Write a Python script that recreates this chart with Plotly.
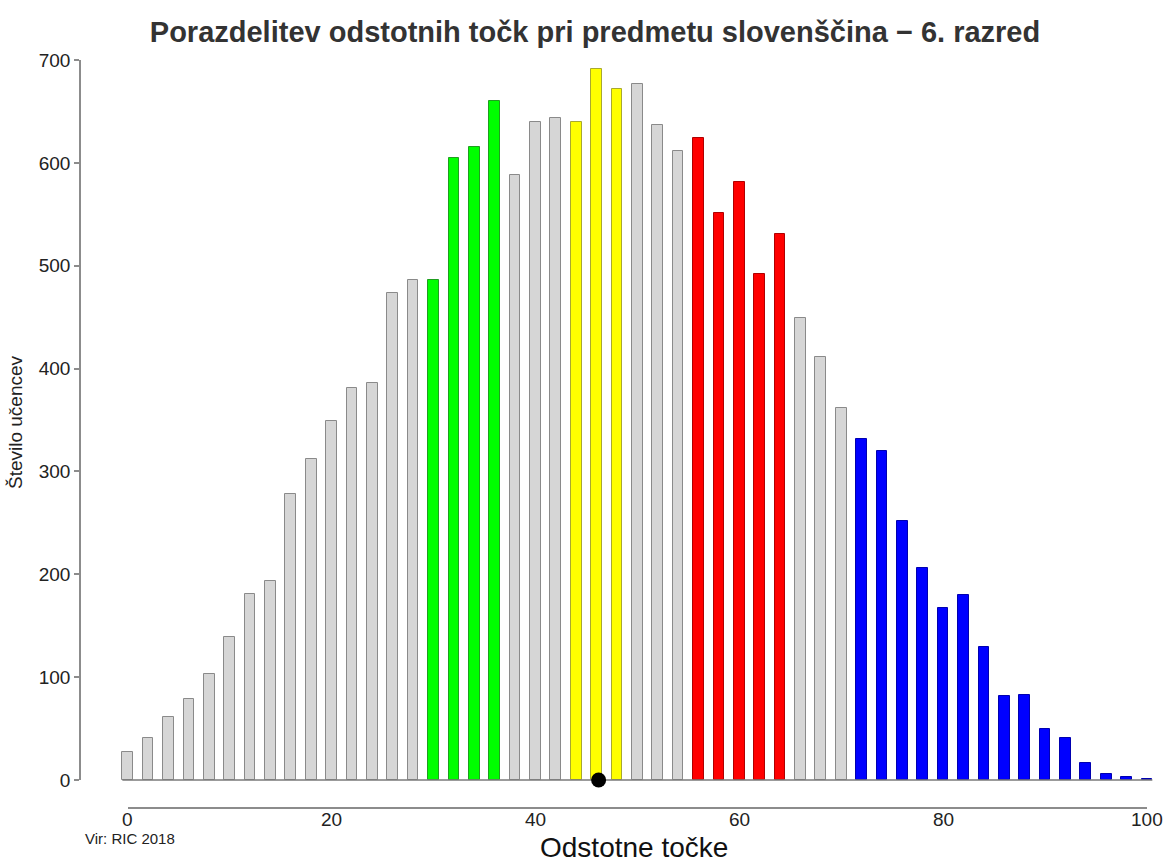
import plotly.graph_objects as go

# ---- data ----
odstotne_tocke = [0, 2, 4, 6, 8, 10, 12, 14, 16, 18, 20, 22, 24, 26, 28, 30, 32, 34, 36, 38,
                  40, 42, 44, 46, 48, 50, 52, 54, 56, 58, 60, 62, 64, 66, 68, 70, 72, 74, 76, 78,
                  80, 82, 84, 86, 88, 90, 92, 94, 96, 98, 100]
stevilo_ucencev = [27, 41, 61, 79, 103, 139, 181, 193, 278, 312, 349, 381, 386, 473, 486, 486, 605, 615, 660, 588,
                   640, 644, 640, 691, 672, 677, 637, 612, 624, 551, 581, 492, 531, 449, 411, 362, 332, 320, 252, 206,
                   167, 180, 129, 82, 83, 50, 41, 17, 6, 3, 1]
skupine = ["siva"] * 15 + ["zelena"] * 4 + ["siva"] * 3 + ["rumena"] * 3 + ["siva"] * 3 + \
          ["rdeca"] * 5 + ["siva"] * 3 + ["modra"] * 15
povprecje_x = [46.2]
povprecje_y = [0]
x_ticks = [0, 20, 40, 60, 80, 100]
y_ticks = [0, 100, 200, 300, 400, 500, 600, 700]

barve = {"siva": "#d6d6d6", "zelena": "#00ff00", "rumena": "#ffff00", "rdeca": "#ff0000", "modra": "#0000ff"}
obrobe = {"siva": "#8a8a8a", "zelena": "#1f9e1f", "rumena": "#a8a830", "rdeca": "#b00000", "modra": "#0000b0"}

FONT = "Liberation Sans, Arial, sans-serif"
bar_w = 1.05

fig = go.Figure()
fig.add_trace(go.Bar(
    x=odstotne_tocke, y=stevilo_ucencev, width=bar_w,
    marker=dict(color=[barve[s] for s in skupine],
                line=dict(color=[obrobe[s] for s in skupine], width=1)),
    showlegend=False, hoverinfo="x+y",
))
# baseline under the bars
fig.add_trace(go.Scatter(
    x=[odstotne_tocke[0] - bar_w / 2, odstotne_tocke[-1] + bar_w / 2], y=[0, 0],
    mode="lines", line=dict(color="#7a7a7a", width=1.5), showlegend=False, hoverinfo="skip",
))
# mean marker
fig.add_trace(go.Scatter(
    x=povprecje_x, y=povprecje_y, xaxis="x2", yaxis="y2", mode="markers",
    marker=dict(color="black", size=15), cliponaxis=False, showlegend=False,
))

W, H = 1165, 862
L, R, T, B = 80, 10, 58, 54
pw, ph = W - L - R, H - T - B
x0_px, x100_px = 127.7, 1147.0
y0_px, y700_px = 780.0, 60.0
sx = (x100_px - x0_px) / 100.0
sy = (y0_px - y700_px) / 700.0
xr0 = -(x0_px - L) / sx
xr1 = xr0 + pw / sx
yr0 = -((H - B) - y0_px) / sy
yr1 = yr0 + ph / sy

def py(px):
    return ((H - B) - px) / ph

def pxx(px):
    return (px - L) / pw

axis_col = "#8c8c8c"
annotations = [
    dict(text="Vir: RIC 2018", xref="paper", yref="paper",
         x=pxx(83), y=py(838), xanchor="left", yanchor="middle",
         showarrow=False, font=dict(size=15, color="#222")),
    dict(text="Odstotne točke", xref="paper", yref="paper",
         x=pxx(634), y=py(848), xanchor="center", yanchor="middle",
         showarrow=False, font=dict(size=28, color="#111")),
    dict(text="Število učencev", xref="paper", yref="paper", textangle=-90,
         x=pxx(16), y=py(422), xanchor="center", yanchor="middle",
         showarrow=False, font=dict(size=19, color="#222")),
]
for t in x_ticks:
    annotations.append(dict(text=str(t), xref="x2", yref="paper", x=t, y=py(819),
                            xanchor="center", yanchor="middle", showarrow=False,
                            font=dict(size=19, color="#222")))

fig.update_layout(
    width=W, height=H,
    margin=dict(l=L, r=R, t=T, b=B, autoexpand=False),
    plot_bgcolor="rgba(0,0,0,0)", paper_bgcolor="white",
    font=dict(family=FONT, color="#222"),
    bargap=0,
    title=dict(text="<b>Porazdelitev odstotnih točk pri predmetu slovenščina − 6. razred</b>",
               x=595 / W, xanchor="center", y=1 - 32 / H, yanchor="middle", yref="container",
               font=dict(size=29, color="#333333", family=FONT)),
    xaxis=dict(range=[xr0, xr1], visible=False, domain=[0, 1], automargin=False),
    yaxis=dict(range=[yr0, yr1], visible=False, domain=[0, 1], automargin=False),
    xaxis2=dict(domain=[pxx(x0_px), pxx(x100_px)], range=[0, 100],
                anchor="free", position=0, automargin=False,
                showline=True, linecolor=axis_col, linewidth=1.5,
                ticks="", tickvals=x_ticks, showticklabels=False,
                showgrid=False, zeroline=False),
    yaxis2=dict(domain=[py(y0_px), py(y700_px)], range=[0, 700],
                anchor="free", position=0, automargin=False,
                showline=True, linecolor=axis_col, linewidth=1.5,
                ticks="outside", ticklen=5, tickcolor=axis_col, tickwidth=1.5,
                tickvals=y_ticks, tickfont=dict(size=19, color="#222"),
                showgrid=False, zeroline=False),
    annotations=annotations,
)

fig.write_html("out.html", config={"displayModeBar": False},
               post_script="document.body.style.margin='0';document.body.style.padding='0';"
                           "document.body.style.overflow='hidden';")
